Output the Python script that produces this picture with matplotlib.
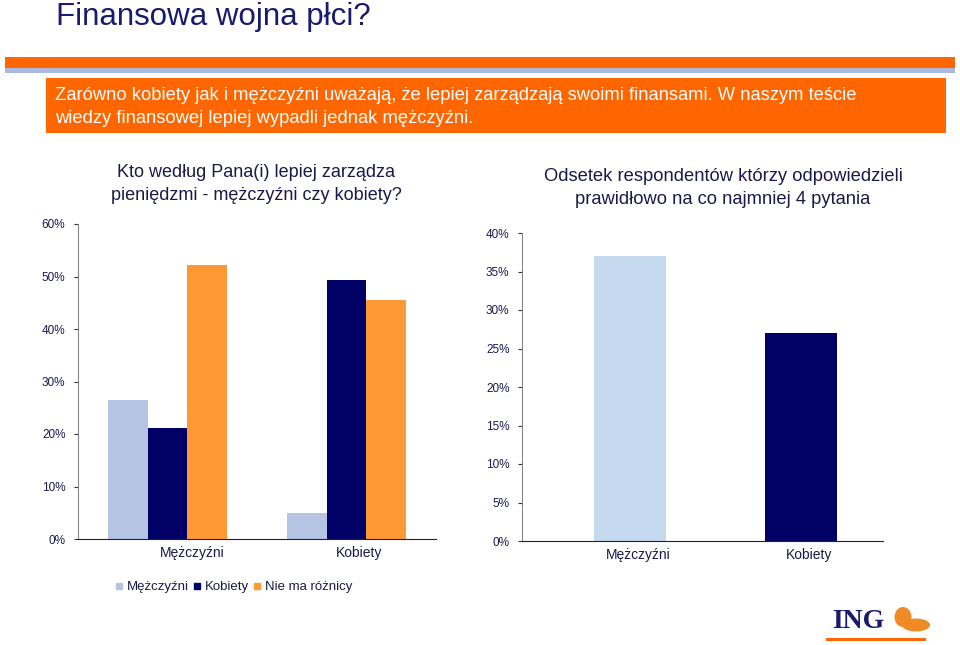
import numpy as np
import matplotlib.pyplot as plt
from matplotlib.lines import Line2D
from matplotlib.patches import Rectangle, Ellipse
from matplotlib.ticker import PercentFormatter

plt.rcParams['font.family'] = ['Liberation Sans', 'DejaVu Sans']

# data
groups_left = ["Mężczyźni", "Kobiety"]
series_left = ["Mężczyźni", "Kobiety", "Nie ma różnicy"]
vals_men = [26.5, 5.0]        # answer "Mężczyźni"
vals_women = [21.1, 49.4]     # answer "Kobiety"
vals_nodiff = [52.2, 45.5]    # answer "Nie ma różnicy"

groups_right = ["Mężczyźni", "Kobiety"]
vals_right = [37.0, 27.0]

title = "Finansowa wojna płci?"
banner = ("Zarówno kobiety jak i mężczyźni uważają, że lepiej zarządzają swoimi finansami. W naszym teście\n"
          "wiedzy finansowej lepiej wypadli jednak mężczyźni.")
sub_left = "Kto według Pana(i) lepiej zarządza\npieniędzmi - mężczyźni czy kobiety?"
sub_right = "Odsetek respondentów którzy odpowiedzieli\nprawidłowo na co najmniej 4 pytania"

W, H = 960, 645
navy = "#000066"
txt = "#1a1a4a"
c_light = "#B4C4E2"
c_orange = "#FF9933"
c_light2 = "#C5D9EE"

fig = plt.figure(figsize=(W/100, H/100), dpi=100)

def fx(x): return x / W
def fy(y): return 1 - y / H

# header
fig.text(fx(56), fy(25), title, fontsize=22.5, color="#1a1a6e", va="baseline", ha="left")
fig.patches.append(Rectangle((fx(5), fy(68)), fx(950), 11/H, transform=fig.transFigure,
                             color="#FF6600", lw=0))
fig.patches.append(Rectangle((fx(5), fy(73)), fx(950), 5/H, transform=fig.transFigure,
                             color="#A9B9E0", lw=0))
fig.patches.append(Rectangle((fx(46), fy(133)), fx(900), 55/H, transform=fig.transFigure,
                             color="#FF6600", lw=0))
fig.text(fx(55), fy(107), banner, fontsize=13.2, color="white", va="center", ha="left",
         linespacing=1.45)

fig.text(fx(256), fy(184), sub_left, fontsize=13, color=txt, ha="center", va="center",
         linespacing=1.4)
fig.text(fx(723), fy(188), sub_right, fontsize=13.2, color=txt, ha="center", va="center",
         linespacing=1.4)

def style(ax, ymax, step):
    ax.set_ylim(0, ymax)
    ax.set_yticks(np.arange(0, ymax + 0.01, step))
    ax.yaxis.set_major_formatter(PercentFormatter(decimals=0))
    for s in ["top", "right"]:
        ax.spines[s].set_visible(False)
    ax.spines["left"].set_color("#888888")
    ax.spines["bottom"].set_color("#222222")
    ax.tick_params(axis="y", length=3, pad=6, labelsize=8.5, labelcolor=txt, color="#333333")
    ax.tick_params(axis="x", length=0, pad=5, labelsize=10, labelcolor=txt)

# left chart
ax1 = fig.add_axes([fx(78), fy(539), 358/W, 315/H])
x = np.arange(len(groups_left))
bw = 0.223
colors = [c_light, navy, c_orange]
for i, (vals, name) in enumerate(zip([vals_men, vals_women, vals_nodiff], series_left)):
    ax1.bar(x + (i - 1) * bw, vals, bw, color=colors[i], label=name)
ax1.set_xlim(-0.5, 1.5)
# category labels sit a bit right of the groups in the original
ax1.set_xticks(x + np.array([0.14, 0.07]))
ax1.set_xticklabels(groups_left)
style(ax1, 60, 10)

# right chart
ax2 = fig.add_axes([fx(522), fy(541), 361/W, 308/H])
x2 = np.arange(len(groups_right))
ax2.bar(x2, vals_right, 0.42, color=[c_light2, navy])
ax2.set_xlim(-0.63, 1.48)
ax2.set_xticks(x2 + 0.05)
ax2.set_xticklabels(groups_right)
style(ax2, 40, 5)

# legend
handles = [Line2D([], [], ls="none", marker="s", markersize=5, color=c) for c in colors]
fig.legend(handles, series_left, loc="center left", bbox_to_anchor=(fx(103), fy(587)),
           ncol=3, frameon=False, fontsize=9.5, handlelength=0.7, handletextpad=0.2,
           columnspacing=0.3, labelcolor=txt)

# logo
fig.text(fx(832), fy(621), "ING", fontsize=20, fontweight="bold", family="Liberation Serif",
         color="#1a1a6e", va="center", ha="left")
lion = "#F08A24"
fig.patches.append(Ellipse((fx(916), fy(625)), 28/W, 13/H, transform=fig.transFigure,
                           color=lion, lw=0))
fig.patches.append(Ellipse((fx(903), fy(617)), 17/W, 20/H, transform=fig.transFigure,
                           color=lion, lw=0))
fig.patches.append(Rectangle((fx(826), fy(641)), 100/W, 3/H, transform=fig.transFigure,
                             color="#FF6600", lw=0))

fig.savefig("out.png", dpi=100)
